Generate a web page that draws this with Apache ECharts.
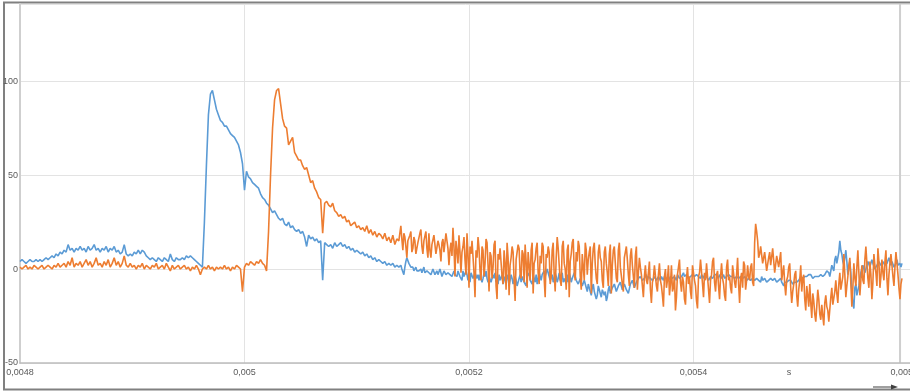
<!DOCTYPE html>
<html>
<head>
<meta charset="utf-8">
<script src="https://cdn.jsdelivr.net/npm/echarts@6/dist/echarts.min.js"></script>
<style>html,body{margin:0;padding:0;background:#fff}#c{width:910px;height:392px}</style>
</head>
<body>
<div id="c"></div>
<script>
// sampling of the picture: early part every 2 px, late (noisy) part every 1 px
const tStart = 0.0048;
const tPerPx = 0.0002 / 224;
const earlyStepPx = 2;
const lateStartPx = 380;
const plotEndT = 0.005584;

const blueEarly = [
4,5,4,3,4,5,4,4,5,4,
5,4,5,6,5,6,7,6,8,7,
9,8,10,9,13,10,11,9,11,10,
12,10,11,9,12,10,11,13,10,11,
9,11,10,12,9,11,10,12,9,10,
8,9,13,8,7,8,7,9,8,10,
8,10,9,7,6,5,6,5,4,6,
5,4,6,5,4,8,5,4,6,5,
5,6,5,7,6,7,6,5,4,3,
2,1,25,55,82,93,95,90,85,82,
79,78,76,76,74,72,71,70,68,66,
62,56,42,52,49,48,46,45,44,43,
40,38,37,35,34,32,30,31,29,27,
26,27,24,23,25,22,23,21,20,21,
19,20,17,12,18,16,17,15,16,14,
15,-6,14,13,12,13,11,14,12,13,
14,12,13,11,12,10,11,9,10,9,
8,9,7,8,6,7,5,6,4,5,
4,3,4,2,3,2,3,1,2,1
];

const blueLate = [
2,0,-1,-3,1,4,6,5,3,2,1,0,1,-1,0,1,-1,0,-1,-2,
0,-2,-1,1,-2,-3,-1,0,-2,-1,-3,-2,0,-1,-3,-2,-1,-3,-2,0,
-2,-4,-3,-1,-2,-3,-4,-2,-1,-3,-2,-4,-3,-1,-3,-2,-4,-1,-2,-4,
-3,-6,-1,-4,-5,-1,-3,-6,-4,-7,-2,-1,-5,-6,-2,-1,-5,-3,-6,-3,
-4,-7,-5,-2,-4,-1,-5,-7,-4,-3,-7,-8,-3,-5,-2,-7,-5,-8,-3,-6,
-6,-3,-8,-9,-4,-7,-3,-5,-9,-6,-3,-5,-8,-9,-4,-6,-9,-10,-5,-3,
-7,-4,-3,-7,-8,-9,-4,-3,-2,-6,-7,-8,-3,-5,-7,-3,-8,-9,-2,-4,
-6,-3,-2,-1,-4,-2,0,-2,-4,-6,-5,-3,-7,-5,-2,-4,-7,-5,-2,-6,
-4,-2,-7,-5,-4,-8,-3,-7,-2,-4,-7,-5,-6,-2,-3,-6,-7,-8,-9,-5,
-7,-9,-10,-6,-5,-10,-12,-8,-7,-12,-14,-10,-8,-12,-11,-16,-14,-9,-10,-13,
-15,-11,-10,-14,-12,-17,-15,-11,-9,-13,-14,-10,-11,-8,-9,-12,-13,-9,-10,-7,
-9,-11,-12,-8,-7,-11,-10,-13,-12,-8,-9,-6,-7,-10,-11,-7,-8,-5,-6,-4,
-5,-6,-7,-5,-4,-3,-6,-4,-3,-5,-5,-6,-7,-4,-4,-6,-6,-4,-5,-6,
-4,-5,-6,-4,-3,-5,-5,-6,-7,-4,-4,-5,-6,-4,-5,-6,-3,-4,-5,-6,
-4,-3,-2,-4,-5,-3,-3,-5,-6,-4,-4,-3,-2,-4,-5,-3,-3,-4,-4,-5,
-3,-4,-5,-3,-2,-4,-4,-6,-6,-4,-3,-5,-5,-3,-2,-3,-4,-5,-3,-4,
-5,-4,-3,-5,-6,-4,-4,-3,-2,-4,-5,-4,-3,-5,-6,-4,-4,-5,-5,-4,
-3,-5,-6,-4,-4,-6,-7,-5,-5,-6,-6,-5,-4,-6,-7,-5,-5,-6,-6,-7,
-4,-6,-7,-5,-5,-7,-8,-6,-6,-5,-4,-6,-7,-5,-5,-7,-8,-6,-6,-5,
-7,-8,-9,-7,-6,-7,-8,-6,-5,-6,-7,-8,-9,-7,-6,-7,-8,-6,-5,-4,
-4,-5,-6,-4,-3,-4,-5,-3,-2,-3,-4,-5,-6,-4,-3,-4,-5,-4,-4,-3,
-2,-4,-5,-3,-3,-1,0,-2,-4,-3,2,1,-1,5,7,3,2,9,15,10,
8,4,2,6,10,4,-3,1,4,-2,-12,-18,-21,-10,-8,-14,-15,-9,-5,-2,
0,2,3,-2,-2,2,4,3,1,3,5,3,2,0,-1,2,3,4,4,2,
2,4,5,2,1,3,3,6,4,2,4,3,1,2,3,5,2,2,3,1,
3
];

const orangeEarly = [
1,0,1,2,0,1,0,2,1,0,
1,2,0,1,2,1,0,2,1,3,
1,2,3,1,4,2,6,1,3,2,
4,1,3,5,2,4,1,3,6,2,
3,1,4,2,5,1,3,6,2,4,
1,3,7,2,1,3,1,2,0,2,
1,3,0,2,1,0,2,1,3,0,
1,2,0,3,1,-1,2,0,1,2,
0,1,2,0,1,-1,1,0,2,0,
-3,0,1,0,2,0,1,-1,1,0,
1,0,2,0,1,-1,1,0,2,1,
0,-12,1,3,2,4,3,2,4,3,
5,3,2,-1,20,50,75,90,95,96,
88,80,76,75,66,68,70,62,60,58,
58,55,53,54,50,46,47,43,41,38,
37,19,35,36,34,33,35,31,30,28,
29,27,28,25,26,23,24,25,22,23,
21,22,20,23,19,21,18,20,17,19,
18,16,19,15,17,14,18,13,16,15
];

const orangeLate = [
23,16,10,19,17,12,6,15,14,18,20,9,11,17,15,8,9,14,13,19,
21,12,8,15,14,20,11,6,19,10,6,13,12,18,17,8,9,15,13,10,
4,14,16,9,8,19,20,11,2,10,14,7,22,12,-4,15,10,3,18,9,
-2,9,12,17,5,-3,19,8,-10,12,8,15,15,-2,-15,10,6,17,11,-1,
-6,12,10,-4,3,16,14,2,-12,9,7,-5,1,13,15,-9,-16,8,5,11,
12,-4,-8,10,3,-11,14,6,-14,2,6,12,9,-6,-17,5,4,13,11,-3,
-5,10,8,-7,13,4,-10,9,2,-6,10,14,-13,3,5,11,14,-2,-8,7,
3,14,12,-5,-15,8,6,12,9,-8,-4,10,14,-3,-12,6,17,11,2,-6,
-9,12,15,3,0,-11,10,13,-15,4,8,14,16,-2,-6,9,4,15,12,-4,
-11,8,7,-6,14,10,-3,5,9,12,-13,3,11,14,2,-5,-8,9,13,6,
4,-6,-10,9,12,3,-2,-9,8,13,-13,2,10,12,3,-5,-7,10,14,1,
0,-8,-12,6,9,12,5,-3,-9,7,11,2,-4,-10,7,12,-11,-2,6,1,
-3,-9,-15,-4,2,-6,-8,-2,4,-11,-18,-7,-5,2,1,-9,-12,-3,3,-6,
-9,-14,-20,-4,0,-10,-6,2,-14,-8,2,-12,-10,-3,-22,-15,-3,1,5,-7,
-12,-4,-7,-16,-19,-5,1,-8,-4,-12,-16,2,3,-6,-9,-17,-21,-4,-2,5,
4,-8,-15,-2,-6,3,2,-11,-18,-6,-3,4,6,-7,-12,-3,-1,-9,-16,-4,
3,-5,-8,-14,-17,1,5,-6,-4,-10,-13,2,1,-7,-10,-3,6,-8,-18,-5,
-2,-10,4,2,-11,-6,2,-4,-6,1,3,-7,-9,14,24,20,15,6,8,12,
12,3,4,9,10,-1,-2,6,9,2,3,11,11,-2,-3,7,8,1,5,9,
-6,-2,2,-8,-14,-6,-4,1,3,-10,-18,-12,-8,-3,-1,-14,-20,-11,-6,2,
-12,-5,-3,-16,-22,-9,-14,-20,-8,-18,-26,-13,-17,-24,-28,-20,-11,-16,-24,-27,
-19,-25,-30,-18,-14,-20,-22,-28,-27,-15,-10,-19,-20,-12,-6,-13,-18,-8,-2,-11,
-12,-4,8,-3,-15,-9,-4,2,6,-8,-20,-10,3,-5,-9,1,10,-2,-14,-6,
2,-6,-8,5,12,3,-5,-10,4,-3,-16,-7,8,2,-2,-9,11,4,-10,-4,
5,-2,-6,4,10,-5,-14,-3,3,8,7,-4,-9,1,9,3,-3,-10,-16,-8,
-5
];

const yTicks = [-50, 0, 50, 100];
const xTickValues = [0.0048, 0.005, 0.0052, 0.0054, 0.0056];
const xTickLabels = ['0,0048', '0,005', '0,0052', '0,0054', '0,0056'];
const xUnit = 's';

function pairs(early, late) {
  const out = early.map((v, i) => [tStart + i * earlyStepPx * tPerPx, v]);
  late.forEach((v, i) => out.push([tStart + (lateStartPx + i) * tPerPx, v]));
  return out;
}

const chart = echarts.init(document.getElementById('c'), null, {renderer: 'canvas'});
const font = 'Liberation Sans';
const lastIdx = xTickLabels.length - 1;
chart.setOption({
  animation: false,
  grid: {left: 20, right: -8, top: 4, bottom: 29, containLabel: false, outerBoundsMode: 'none'},
  xAxis: {
    type: 'value', min: 0.0048, max: 0.0056, interval: 0.0002,
    axisLine: {show: true, onZero: false, lineStyle: {color: '#bdbdbd', width: 1.5}},
    axisTick: {show: false},
    splitLine: {show: true, lineStyle: {color: '#e3e3e3', width: 1}},
    axisLabel: {
      color: '#5a5a5a', fontSize: 9, fontFamily: font, margin: 5,
      formatter: v => {
        const idx = Math.round((v - 0.0048) / 0.0002);
        if (idx >= lastIdx) return '';
        return xTickLabels[idx] !== undefined ? xTickLabels[idx] : '';
      }
    }
  },
  yAxis: {
    type: 'value', min: -50, max: 141, interval: 50,
    axisLine: {show: true, lineStyle: {color: '#cfcfcf', width: 2}},
    axisTick: {show: false},
    splitLine: {show: true, lineStyle: {color: '#e3e3e3', width: 1}},
    axisLabel: {
      color: '#5a5a5a', fontSize: 9, fontFamily: font, margin: 2,
      showMaxLabel: false,
      formatter: v => (yTicks.indexOf(v) >= 0 ? String(v) : '')
    }
  },
  series: [{
    type: 'line', data: pairs(blueEarly, blueLate), showSymbol: false, symbol: 'none',
    lineStyle: {color: '#5b9bd5', width: 1.6}, itemStyle: {color: '#5b9bd5'}
  }, {
    type: 'line', data: pairs(orangeEarly, orangeLate), showSymbol: false, symbol: 'none',
    lineStyle: {color: '#ed7d31', width: 1.6}, itemStyle: {color: '#ed7d31'}
  }]
});

// plot-frame right edge and the clipped last tick label, placed through the axis scale
const edgeX = chart.convertToPixel({xAxisIndex: 0}, plotEndT);
const lastTickX = chart.convertToPixel({xAxisIndex: 0}, xTickValues[lastIdx]);
const topY = chart.convertToPixel({yAxisIndex: 0}, 141);
const botY = chart.convertToPixel({yAxisIndex: 0}, -50);
chart.setOption({
  graphic: [
    {type: 'line', shape: {x1: edgeX, y1: topY, x2: edgeX, y2: botY}, style: {stroke: '#cfcfcf', lineWidth: 2}, silent: true},
    {type: 'text', x: lastTickX, y: botY + 10, style: {text: xTickLabels[lastIdx], fill: '#5a5a5a', font: '9px "Liberation Sans"', textAlign: 'right', textVerticalAlign: 'middle'}},
    {type: 'rect', shape: {x: 4, y: 2.5, width: 920, height: 387}, style: {fill: 'none', stroke: '#808080', lineWidth: 2}, silent: true},
    {type: 'text', x: 789, y: botY + 10, style: {text: xUnit, fill: '#5a5a5a', font: '9px "Liberation Sans"', textAlign: 'center', textVerticalAlign: 'middle'}},
    {type: 'line', shape: {x1: 873, y1: 387, x2: 893, y2: 387}, style: {stroke: '#404040', lineWidth: 1}},
    {type: 'polygon', shape: {points: [[891, 384.5], [898, 387], [891, 389.5]]}, style: {fill: '#404040'}}
  ]
});
</script>
</body>
</html>
